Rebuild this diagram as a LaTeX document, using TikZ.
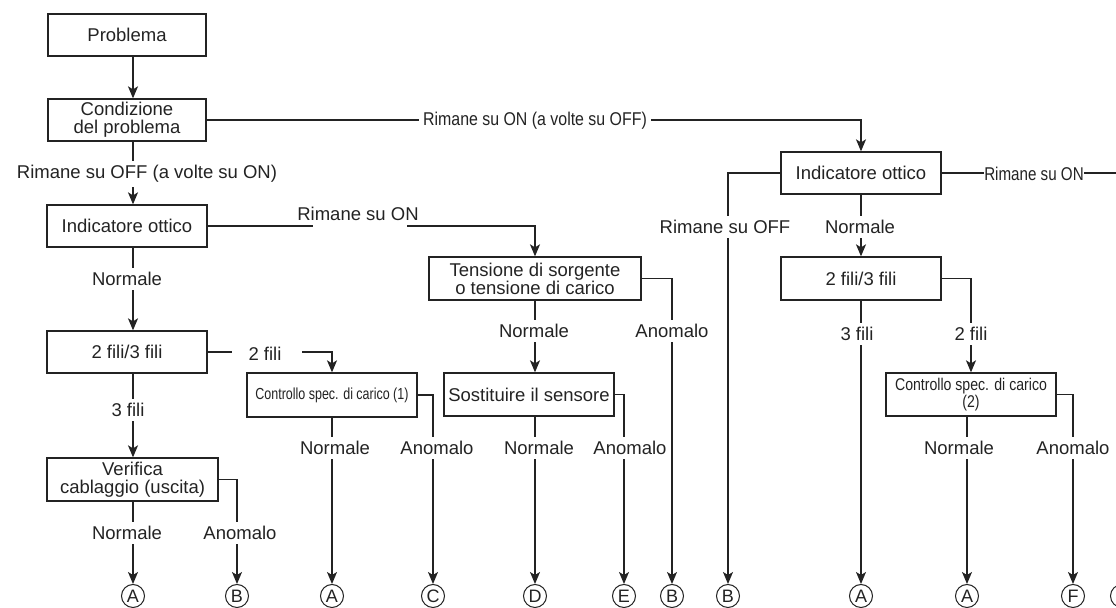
\documentclass[tikz,border=0pt]{standalone}
\usepackage{fontspec}
\setmainfont{Liberation Sans}
\newfontfamily\condA[FakeStretch=0.86]{Liberation Sans}
\newfontfamily\condB[FakeStretch=0.82]{Liberation Sans}
\newfontfamily\condC[FakeStretch=0.78]{Liberation Sans}
\newfontfamily\condD[FakeStretch=0.83]{Liberation Sans}
\usetikzlibrary{arrows.meta}
\definecolor{ink}{RGB}{35,35,35}
\begin{document}
\begin{tikzpicture}[x=0.5pt,y=-0.5pt,
  every node/.style={text=ink},
  box/.style={draw=ink, line width=0.65pt, align=center, inner sep=0pt, font=\fontsize{9.25}{9}\selectfont},
  lab/.style={fill=white, inner xsep=2pt, inner ysep=2pt, font=\fontsize{9.25}{9}\selectfont},
  plainlab/.style={inner sep=0pt, font=\fontsize{9.25}{9}\selectfont},
  arr/.style={-{Stealth[length=6pt,width=5pt,inset=1.5pt]}},
  conn/.style={draw=ink, line width=0.65pt},
  circ/.style={circle, draw=ink, line width=0.5pt, minimum size=11.5pt, inner sep=0pt, fill=white, font=\fontsize{9}{9}\selectfont}
]
\path[use as bounding box] (0,0) rectangle (1116,608);
\clip (0,0) rectangle (1116,608);

% column helper coordinates
\coordinate (cA) at (133,0);
\coordinate (r1) at (313,226);
\coordinate (r2) at (407,226);
\coordinate (f2a) at (232,352);
\coordinate (f2b) at (302,352);

% boxes
\node[box, minimum width=79pt, minimum height=21pt] (prob) at (127,35) {Problema};
\node[box, minimum width=79pt, minimum height=21pt] (cond) at (127,120) {Condizione\\del problema};
\node[box, minimum width=80pt, minimum height=21pt] (ind1) at (127,226) {Indicatore ottico};
\node[box, minimum width=80pt, minimum height=21pt] (fili1) at (127,352) {2 fili/3 fili};
\node[box, minimum width=85.5pt, minimum height=21.5pt] (ver) at (132.5,479.5) {Verifica\\cablaggio (uscita)};
\node[box, minimum width=85pt, minimum height=22pt, font=\condC\fontsize{8}{8}\selectfont] (ctl1) at (332,395) {Controllo spec. di carico (1)};
\node[box, minimum width=106pt, minimum height=21.5pt] (ten) at (535,278.5) {Tensione di sorgente\\o tensione di carico};
\node[box, minimum width=85pt, minimum height=21.5pt] (sost) at (529,394.5) {Sostituire il sensore};
\node[box, minimum width=80pt, minimum height=21pt] (ind2) at (861,173) {Indicatore ottico};
\node[box, minimum width=80pt, minimum height=21.5pt] (fili2) at (861,278.5) {2 fili/3 fili};
\node[box, minimum width=85pt, minimum height=21.5pt, font=\condD\fontsize{8.5}{8.5}\selectfont] (ctl2) at (971,394.5) {Controllo spec. di carico\\(2)};

% terminal circles
\node[circ] (a1) at (133,596) {A};
\node[circ] (b1) at (237,596) {B};
\node[circ] (a2) at (332,596) {A};
\node[circ] (c1) at (433,596) {C};
\node[circ] (d1) at (535,596) {D};
\node[circ] (e1) at (624,596) {E};
\node[circ] (b2) at (672,596) {B};
\node[circ] (b3) at (728,596) {B};
\node[circ] (a3) at (861,596) {A};
\node[circ] (a4) at (967,596) {A};
\node[circ] (f1) at (1073,596) {F};
\node[circ] (g1) at (1122,596) {};

% connectors
\draw[conn, arr] (prob.south -| cA) -- (cond.north -| cA);
\draw[conn, arr] (cond.south -| cA) -- (ind1.north -| cA);
\draw[conn, arr] (cond.east) -| (ind2.north);
\draw[conn, arr] (ind1.south -| cA) -- (fili1.north -| cA);
\draw[conn, arr] (fili1.south -| cA) -- (ver.north -| cA);
\draw[conn, arr] (ver.south -| cA) -- (a1.north);
\draw[conn, arr] (ver.east) -| (b1.north);
\draw[conn] (fili1.east) -- (f2a);
\draw[conn, arr] (f2b) -| (ctl1.north);
\draw[conn, arr] (ctl1.south) -- (a2.north);
\draw[conn, arr] (ctl1.east) -| (c1.north);
\draw[conn] (ind1.east) -- (r1);
\draw[conn, arr] (r2) -| (ten.north);
\draw[conn, arr] (ten.south) -- (sost.north -| ten.south);
\draw[conn, arr] (ten.east) -| (b2.north);
\draw[conn, arr] (sost.south -| d1) -- (d1.north);
\draw[conn, arr] (sost.east) -| (e1.north);
\draw[conn, arr] (ind2.west) -| (b3.north);
\draw[conn, arr] (ind2.south) -- (fili2.north);
\draw[conn, arr] (fili2.south) -- (a3.north);
\draw[conn, arr] (fili2.east) -| (ctl2.north);
\draw[conn, arr] (ctl2.south -| a4) -- (a4.north);
\draw[conn, arr] (ctl2.east) -| (f1.north);
\draw[conn, arr] (ind2.east) -| (g1.north);

% labels
\node[lab, font=\condA\fontsize{9.25}{9}\selectfont] (l1) at (535,121) {Rimane su ON (a volte su OFF)};
\node[lab] (l2) at (147,174) {Rimane su OFF (a volte su ON)};
\node[plainlab] (l3) at (358,214) {Rimane su ON};
\node[lab] (l4) at (127,279) {Normale};
\node[plainlab] (l5) at (265,354) {2 fili};
\node[lab] (l6) at (128,410) {3 fili};
\node[lab] (l7) at (127,533) {Normale};
\node[lab] (l8) at (240,533) {Anomalo};
\node[lab] (l9) at (335,448) {Normale};
\node[lab] (l10) at (437,448) {Anomalo};
\node[lab] (l11) at (534,331) {Normale};
\node[lab] (l12) at (672,331) {Anomalo};
\node[lab] (l13) at (539,448) {Normale};
\node[lab] (l14) at (630,448) {Anomalo};
\node[lab] (l15) at (725,227) {Rimane su OFF};
\node[lab] (l16) at (860,227) {Normale};
\node[lab, inner xsep=0pt, font=\condB\fontsize{9.25}{9}\selectfont] (l17) at (1034,174) {Rimane su ON};
\node[lab] (l18) at (857,334) {3 fili};
\node[lab] (l19) at (971,334) {2 fili};
\node[lab] (l20) at (959,448) {Normale};
\node[lab] (l21) at (1073,448) {Anomalo};
\end{tikzpicture}
\end{document}
